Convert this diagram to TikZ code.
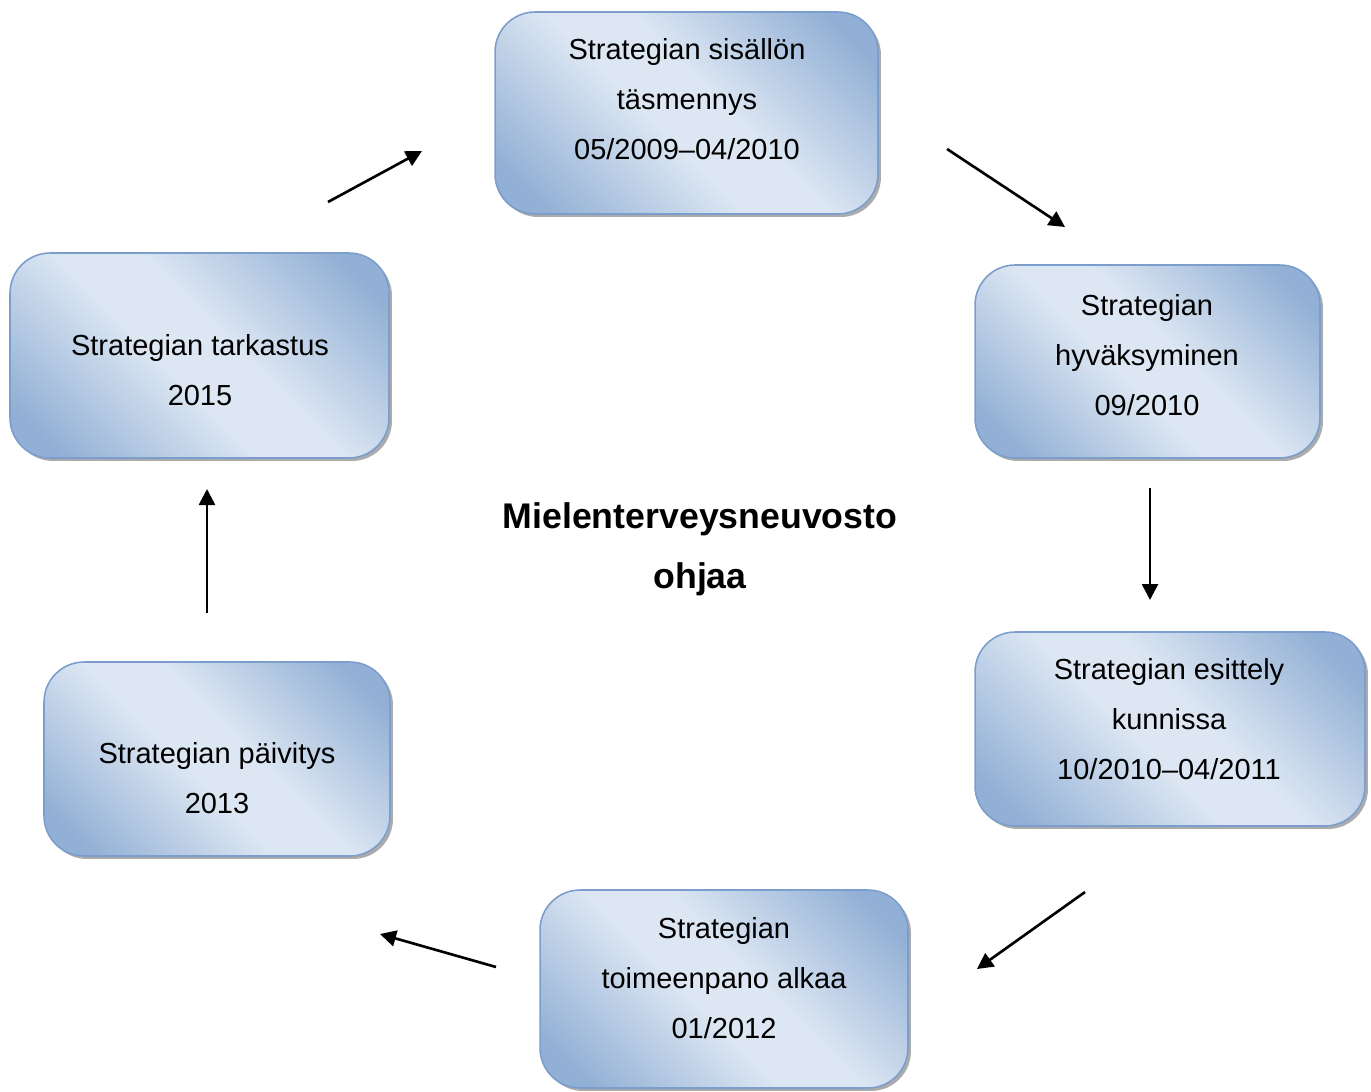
\documentclass[tikz,border=0pt]{standalone}
\usepackage{fontspec}
\setmainfont{Liberation Sans}
\usetikzlibrary{arrows.meta,shadows}

\definecolor{boxdark}{RGB}{146,176,213}
\definecolor{boxlight}{RGB}{221,231,243}
\definecolor{boxline}{RGB}{124,158,204}

\pgfdeclarehorizontalshading{boxshade}{100bp}{color(0bp)=(boxdark); color(21bp)=(boxdark);
  color(45bp)=(boxlight); color(55bp)=(boxlight); color(79bp)=(boxdark); color(100bp)=(boxdark)}

\tikzset{
  box/.style={draw=boxline, line width=0.9pt, rounded corners=0.8cm,
    shading=boxshade, shading angle=45,
    drop shadow={shadow xshift=0.06cm, shadow yshift=-0.06cm, fill=black!55, opacity=0.6}},
  txt/.style={align=center, inner sep=0pt, font=\fontsize{16.5}{28.5}\selectfont},
  pil/.style={-{Triangle[length=0.32cm,width=0.32cm]}, line width=1.5pt}
}

\begin{document}
\begin{tikzpicture}[x=0.02cm, y=-0.02cm]
\useasboundingbox (0,0) rectangle (1371,1091);

% the six phases
\node[box, minimum width=7.66cm, minimum height=4.04cm] (b1) at (686.5,113) {};
\node[box, minimum width=6.9cm, minimum height=3.86cm] (b2) at (1147.5,361.5) {};
\node[box, minimum width=7.8cm, minimum height=3.88cm] (b3) at (1170,729) {};
\node[box, minimum width=7.36cm, minimum height=3.96cm] (b4) at (724,989) {};
\node[box, minimum width=6.92cm, minimum height=3.88cm] (b5) at (217,759) {};
\node[box, minimum width=7.58cm, minimum height=4.1cm] (b6) at (199.5,355.5) {};

\node[txt] (t1) at (687,99) {Strategian sisällön\\täsmennys\\05/2009--04/2010};
\node[txt] (t2) at (1147,355) {Strategian\\hyväksyminen\\09/2010};
\node[txt] (t3) at (1169,719) {Strategian esittely\\kunnissa\\10/2010--04/2011};
\node[txt] (t4) at (724,978) {Strategian\\toimeenpano alkaa\\01/2012};
\node[txt] (t5) at (217,778) {Strategian päivitys\\2013};
\node[txt] (t6) at (200,370) {Strategian tarkastus\\2015};

% keskellä
\node[align=center, inner sep=0pt, font=\fontsize{20.3}{34}\selectfont\bfseries] (ohj) at (700,549)
  {Mielenterveysneuvosto\\ohjaa};

% nuolten päät
\coordinate (a1s) at (328,202); \coordinate (a1e) at (422,151);
\coordinate (a2s) at (947,149); \coordinate (a2e) at (1065,227);
\coordinate (a3s) at (1150,488); \coordinate (a3e) at (1150,600);
\coordinate (a4s) at (1085,892); \coordinate (a4e) at (977,969);
\coordinate (a5s) at (496,967); \coordinate (a5e) at (380,934);
\coordinate (a6s) at (207,613); \coordinate (a6e) at (207,489);

\begin{scope}[pil]
\draw (a1s)--(a1e);
\draw (a2s)--(a2e);
\draw (a3s)--(a3e);
\draw (a4s)--(a4e);
\draw (a5s)--(a5e);
\draw (a6s)--(a6e);
\end{scope}
\end{tikzpicture}
\end{document}
